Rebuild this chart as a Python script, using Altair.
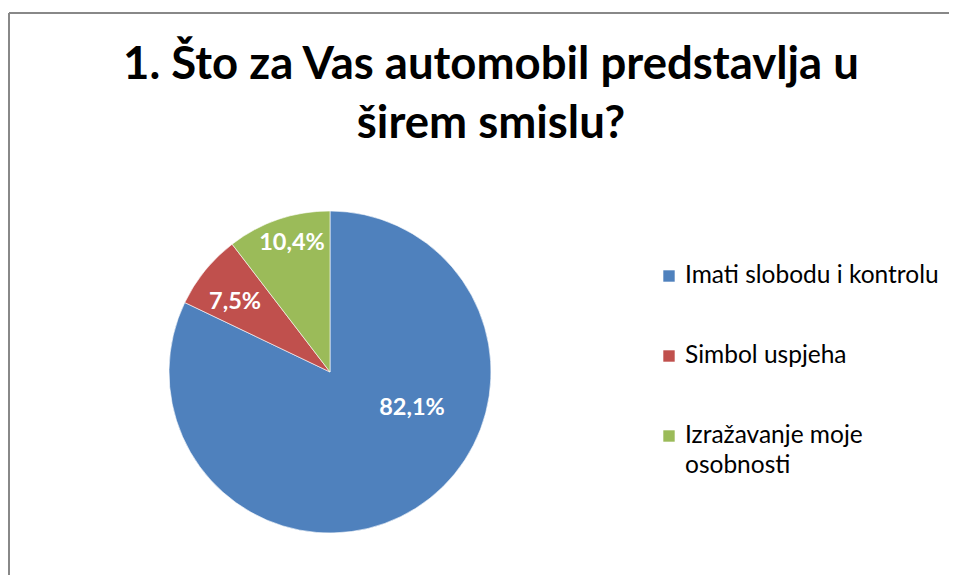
import altair as alt
import pandas as pd

categories = ["Imati slobodu i kontrolu", "Simbol uspjeha", "Izražavanje moje osobnosti"]
values = [82.1, 7.5, 10.4]
pct_labels = ["82,1%", "7,5%", "10,4%"]
legend_text = ["Imati slobodu i kontrolu", "Simbol uspjeha", "Izražavanje moje\nosobnosti"]
colors = ["#4F81BD", "#C0504D", "#9BBB59"]
title_lines = ["1. Što za Vas automobil predstavlja u", "širem smislu?"]

df = pd.DataFrame({
    "category": categories,
    "value": values,
    "label": pct_labels,
    "legend": legend_text,
    "order": list(range(len(categories))),
})

FONT = "Lato"
CX, CY, R = 322, 364, 161

color_scale = alt.Scale(domain=categories, range=colors)
base = alt.Chart(df)

pie = base.mark_arc(outerRadius=R, stroke="white", strokeWidth=0.6).encode(
    theta=alt.Theta("value:Q", stack=True),
    color=alt.Color("category:N", scale=color_scale, legend=None),
    order=alt.Order("order:Q"),
    x=alt.value(CX),
    y=alt.value(CY),
)

label_layers = []
offsets = {
    "Imati slobodu i kontrolu": (90, 34, -40),
    "Simbol uspjeha": (121, -1, 6),
    "Izražavanje moje osobnosti": (134, 5, -2),
}
for cat in categories:
    r, dx, dy = offsets[cat]
    label_layers.append(
        base.mark_text(
            radius=r, dx=dx, dy=dy, font=FONT, fontSize=23.5, fontWeight="bold",
            color="white", align="center", baseline="middle",
        ).encode(
            theta=alt.Theta("value:Q", stack=True),
            order=alt.Order("order:Q"),
            text=alt.condition(alt.datum.category == cat, alt.Text("label:N"), alt.value("")),
            x=alt.value(CX),
            y=alt.value(CY),
        )
    )

leg_y = alt.Y(
    "category:N",
    scale=alt.Scale(type="point", domain=categories, range=[268, 428], padding=0),
    axis=None,
)

leg_sq = base.mark_square(size=130, opacity=1).encode(
    x=alt.value(661),
    y=leg_y,
    color=alt.Color("category:N", scale=color_scale, legend=None),
)
leg_txt = base.mark_text(
    align="left", baseline="alphabetic", dy=7, font=FONT, fontSize=24.5,
    color="#000000", lineBreak="\n", lineHeight=30,
).encode(
    x=alt.value(677),
    y=leg_y,
    text="legend:N",
)

title = alt.Chart(pd.DataFrame({"t": [0]})).mark_text(
    text=title_lines, font=FONT, fontSize=45.5, fontWeight="bold", color="#000000",
    align="center", baseline="alphabetic", lineHeight=59,
).encode(x=alt.value(483), y=alt.value(71))

border_top = alt.Chart(pd.DataFrame({"t": [0]})).mark_rule(color="#888888", strokeWidth=2).encode(
    x=alt.value(1), x2=alt.value(941), y=alt.value(5)
)
border_left = alt.Chart(pd.DataFrame({"t": [0]})).mark_rule(color="#888888", strokeWidth=2).encode(
    x=alt.value(1), y=alt.value(5), y2=alt.value(567)
)

chart = alt.layer(
    border_top, border_left, pie, *label_layers, leg_sq, leg_txt, title
).resolve_scale(y="independent").properties(
    width=941, height=567, padding=0, background="white",
    autosize=alt.AutoSizeParams(type="fit", contains="padding"),
).configure_view(strokeWidth=0)

chart.save("out.html", embed_options={"renderer": "svg", "actions": False})
